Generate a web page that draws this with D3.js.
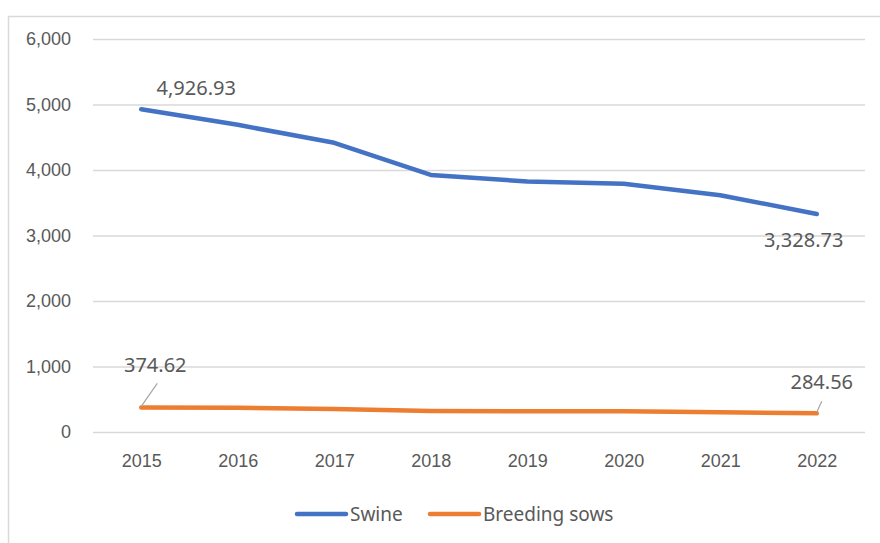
<!DOCTYPE html>
<html>
<head>
<meta charset="utf-8">
<script src="https://cdn.jsdelivr.net/npm/d3@7"></script>
<style>
  html, body { margin: 0; padding: 0; background: #fff; }
  svg { display: block; font-family: "Noto Sans", "Open Sans", sans-serif; }
</style>
</head>
<body>
<svg id="chart" width="880" height="543"></svg>
<script>
// Livestock counts by year (thousand head)
const years = ["2015", "2016", "2017", "2018", "2019", "2020", "2021", "2022"];
const swine = [4926.93, 4690, 4415, 3924, 3825, 3790, 3615, 3328.73];
const breedingSows = [374.62, 370, 352, 322, 316, 318, 300, 284.56];
const yTicks = [0, 1000, 2000, 3000, 4000, 5000, 6000];

const seriesList = [
  { name: "Swine", values: swine, color: "#4472C4" },
  { name: "Breeding sows", values: breedingSows, color: "#ED7D31" }
];

const svg = d3.select("#chart");
const W = 880, H = 543;
const plot = { left: 93, right: 865, top: 39, bottom: 432 };
const textColor = "#595959";
const axisFont = 18, labelFont = 20, legendFont = 19;

// Outer chart-area border
svg.append("rect")
  .attr("x", 8.5).attr("y", 16.5)
  .attr("width", W).attr("height", H)
  .attr("fill", "none").attr("stroke", "#d9d9d9").attr("stroke-width", 1.5);

const x = d3.scalePoint().domain(years)
  .range([plot.left, plot.right]).padding(0.5);
const y = d3.scaleLinear().domain([0, 6000]).range([plot.bottom, plot.top]);

// Horizontal gridlines + y labels
const yAxis = d3.axisLeft(y).tickValues(yTicks)
  .tickSize(-(plot.right - plot.left)).tickPadding(22)
  .tickFormat(d3.format(","));
const gy = svg.append("g").attr("transform", `translate(${plot.left},0)`).call(yAxis);
gy.select(".domain").remove();
gy.selectAll(".tick line").attr("stroke", "#d9d9d9").attr("stroke-width", 1.5);
gy.selectAll(".tick text").attr("fill", textColor)
  .style("font-size", axisFont + "px").style("font-family", "inherit");

// Category axis labels
const xAxis = d3.axisBottom(x).tickSize(0).tickPadding(22);
const gx = svg.append("g").attr("transform", `translate(0,${plot.bottom})`).call(xAxis);
gx.select(".domain").remove();
gx.selectAll(".tick text").attr("fill", textColor)
  .style("font-size", axisFont + "px").style("font-family", "inherit");

// Lines
const line = d3.line().x((d, i) => x(years[i])).y(d => y(d));
seriesList.forEach(s => {
  svg.append("path").datum(s.values)
    .attr("d", line)
    .attr("fill", "none")
    .attr("stroke", s.color)
    .attr("stroke-width", 4.5)
    .attr("stroke-linejoin", "round")
    .attr("stroke-linecap", "round");
});

// Data labels at first and last points
const fmt = d3.format(",.2f");
const labels = [
  { s: 0, i: 0, dx: 55, dy: -14, leader: false },
  { s: 0, i: 7, dx: -13, dy: 33, leader: false },
  { s: 1, i: 0, dx: 14, dy: -35, leader: true },
  { s: 1, i: 7, dx: 5, dy: -24, leader: true }
];
labels.forEach(l => {
  const v = seriesList[l.s].values[l.i];
  const px = x(years[l.i]), py = y(v);
  if (l.leader) {
    const ex = l.i === 0 ? px + 16 : px + 5;
    const ey = l.i === 0 ? py - 24 : py - 12;
    svg.append("line")
      .attr("x1", px).attr("y1", py - 1)
      .attr("x2", ex).attr("y2", ey)
      .attr("stroke", "#a6a6a6").attr("stroke-width", 1.2);
  }
  svg.append("text")
    .attr("x", px + l.dx).attr("y", py + l.dy)
    .attr("text-anchor", "middle")
    .attr("fill", textColor)
    .style("font-size", labelFont + "px")
    .text(fmt(v));
});

// Legend
const legendItems = [
  { x: 297, textX: 350 },
  { x: 430, textX: 483 }
];
seriesList.forEach((s, k) => {
  const g = svg.append("g");
  g.append("line")
    .attr("x1", legendItems[k].x).attr("x2", legendItems[k].x + 49)
    .attr("y1", 514).attr("y2", 514)
    .attr("stroke", s.color).attr("stroke-width", 4.5)
    .attr("stroke-linecap", "round");
  g.append("text")
    .attr("x", legendItems[k].textX).attr("y", 520.5)
    .attr("fill", textColor)
    .style("font-size", legendFont + "px")
    .text(s.name);
});
</script>
</body>
</html>
